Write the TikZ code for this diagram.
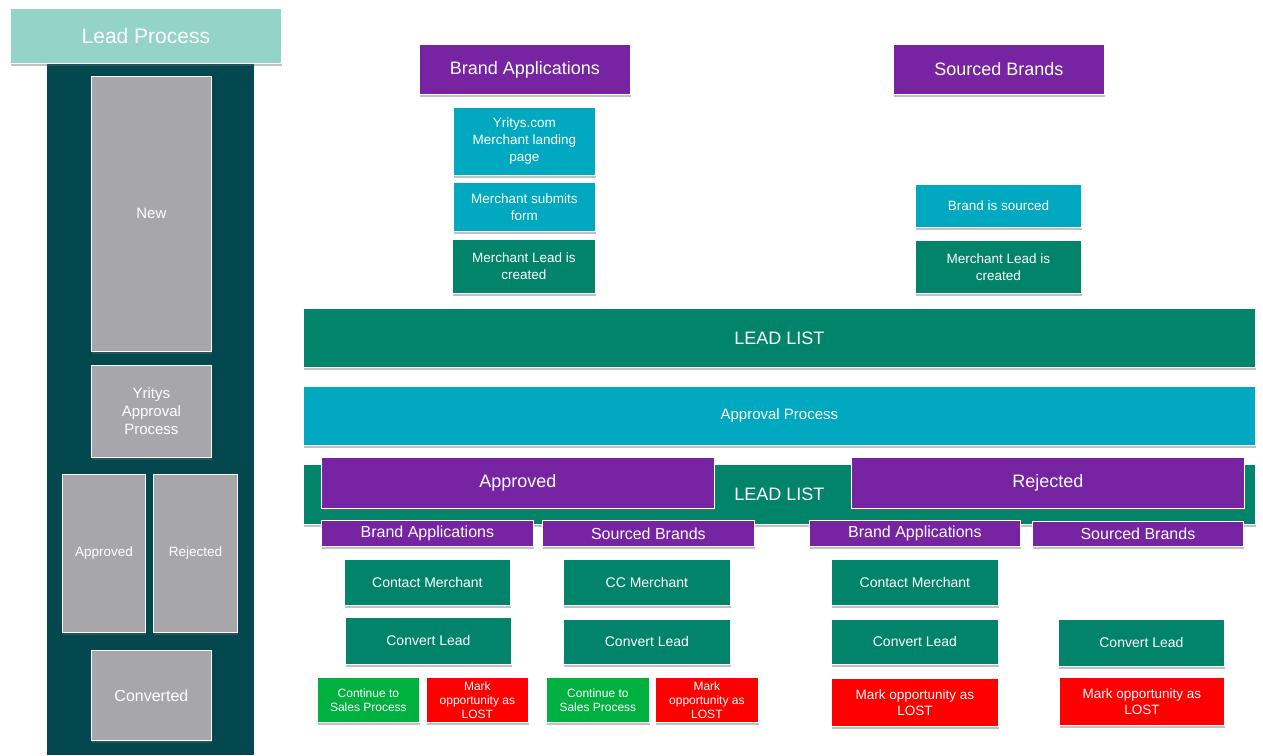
\documentclass[tikz,border=0pt]{standalone}
\usepackage{fontspec}
\setmainfont{Liberation Sans}
\usetikzlibrary{shadows}
\definecolor{headteal}{HTML}{94D3C7}
\definecolor{darkcol}{HTML}{03474F}
\definecolor{greybox}{HTML}{A7A6AA}
\definecolor{brandpurple}{HTML}{7624A1}
\definecolor{cyanbox}{HTML}{00A9BF}
\definecolor{leadgreen}{HTML}{02846A}
\definecolor{okgreen}{HTML}{00B140}
\definecolor{lostred}{HTML}{FF0000}
\tikzset{
  box/.style={draw=white, line width=0.8pt, text=white, align=center,
    inner sep=0pt, anchor=north west,
    drop shadow={shadow xshift=1pt, shadow yshift=-2.5pt, opacity=0.4, fill=black!60}},
  headbox/.style={box, fill=headteal, font=\fontsize{21}{25}\selectfont},
  greycell/.style={box, fill=greybox, font=\fontsize{15}{18}\selectfont},
  purplebox/.style={box, fill=brandpurple, font=\fontsize{18}{21}\selectfont},
  subhead/.style={box, fill=brandpurple, font=\fontsize{16}{18}\selectfont},
  cyanstep/.style={box, fill=cyanbox, font=\fontsize{13.5}{17}\selectfont},
  greenstep/.style={box, fill=leadgreen, font=\fontsize{13.5}{17}\selectfont},
  listbar/.style={box, fill=leadgreen, font=\fontsize{18}{21}\selectfont},
  okstep/.style={box, fill=okgreen, font=\fontsize{12}{14}\selectfont},
  loststep/.style={box, fill=lostred, font=\fontsize{12}{14}\selectfont},
  bigloss/.style={box, fill=lostred, font=\fontsize{13.5}{16}\selectfont},
}
\begin{document}
\begin{tikzpicture}[x=1pt,y=-1pt]
  \useasboundingbox[fill=white] (0,0) rectangle (1263,755);
  % left column: lead states
  \fill[darkcol] (47,60) rectangle (254,755);
  \node[headbox, minimum width=271, minimum height=55] (leadproc) at (10,8) {Lead Process};
  \node[greycell, minimum width=120, minimum height=275] (stnew) at (91,76) {New};
  \node[greycell, minimum width=120, minimum height=92] (stappr) at (91,365) {Yritys\\Approval\\Process};
  \node[greycell, minimum width=83, minimum height=158, font=\fontsize{13.5}{16}\selectfont] (stok) at (62,474) {Approved};
  \node[greycell, minimum width=84, minimum height=158, font=\fontsize{13.5}{16}\selectfont] (strej) at (153,474) {Rejected};
  \node[greycell, minimum width=120, minimum height=90, font=\fontsize{16}{19}\selectfont] (stconv) at (91,650) {Converted};
  % lead sources
  \node[purplebox, minimum width=211, minimum height=50] (brandapp) at (419,44) {Brand Applications};
  \node[purplebox, minimum width=211, minimum height=50] (sourced) at (893,44) {Sourced Brands};
  \node[cyanstep, minimum width=142, minimum height=68] (landing) at (453,107) {Yritys.com\\Merchant landing\\page};
  \node[cyanstep, minimum width=142, minimum height=49] (submit) at (453,182) {Merchant submits\\form};
  \node[greenstep, minimum width=143, minimum height=54] (created) at (452,239) {Merchant Lead is\\created};
  \node[cyanstep, minimum width=166, minimum height=43] (issourced) at (915,184) {Brand is sourced};
  \node[greenstep, minimum width=166, minimum height=53] (created2) at (915,240) {Merchant Lead is\\created};
  % lists
  \node[listbar, minimum width=952, minimum height=59] (leadlist) at (303,308) {LEAD LIST};
  \node[box, fill=cyanbox, font=\fontsize{15}{18}\selectfont, minimum width=952, minimum height=59] (approval) at (303,386) {Approval Process};
  \node[listbar, minimum width=952, minimum height=60] (leadlist2) at (303,464) {LEAD LIST};
  \node[purplebox, minimum width=393, minimum height=51] (approved) at (321,457) {Approved};
  \node[purplebox, minimum width=393, minimum height=51] (rejected) at (851,457) {Rejected};
  % approved branch
  \node[subhead, minimum width=212, minimum height=26] (okbrand) at (321,520) {Brand Applications};
  \node[subhead, minimum width=212, minimum height=26] (oksrc) at (542,520) {Sourced Brands};
  \node[greenstep, minimum width=166, minimum height=46, font=\fontsize{14}{17}\selectfont] (okcontact) at (344,559) {Contact Merchant};
  \node[greenstep, minimum width=167, minimum height=46, font=\fontsize{14}{17}\selectfont] (okcc) at (563,559) {CC Merchant};
  \node[greenstep, minimum width=166, minimum height=47, font=\fontsize{14}{17}\selectfont] (okconv) at (345,617) {Convert Lead};
  \node[greenstep, minimum width=167, minimum height=45, font=\fontsize{14}{17}\selectfont] (okconv2) at (563,619) {Convert Lead};
  \node[okstep, minimum width=102, minimum height=45] (okcont) at (317,677) {Continue to\\Sales Process};
  \node[loststep, minimum width=102, minimum height=45] (oklost) at (426,677) {Mark\\opportunity as\\LOST};
  \node[okstep, minimum width=103, minimum height=45] (okcont2) at (546,677) {Continue to\\Sales Process};
  \node[loststep, minimum width=103, minimum height=45] (oklost2) at (655,677) {Mark\\opportunity as\\LOST};
  % rejected branch
  \node[subhead, minimum width=211, minimum height=26] (rejbrand) at (809,520) {Brand Applications};
  \node[subhead, minimum width=211, minimum height=25] (rejsrc) at (1032,521) {Sourced Brands};
  \node[greenstep, minimum width=167, minimum height=46, font=\fontsize{14}{17}\selectfont] (rejcontact) at (831,559) {Contact Merchant};
  \node[greenstep, minimum width=167, minimum height=45, font=\fontsize{14}{17}\selectfont] (rejconv) at (831,619) {Convert Lead};
  \node[greenstep, minimum width=166, minimum height=47, font=\fontsize{14}{17}\selectfont] (rejconv2) at (1058,619) {Convert Lead};
  \node[bigloss, minimum width=167, minimum height=48] (rejlost) at (831,678) {Mark opportunity as\\LOST};
  \node[bigloss, minimum width=165, minimum height=48] (rejlost2) at (1059,677) {Mark opportunity as\\LOST};
\end{tikzpicture}
\end{document}
